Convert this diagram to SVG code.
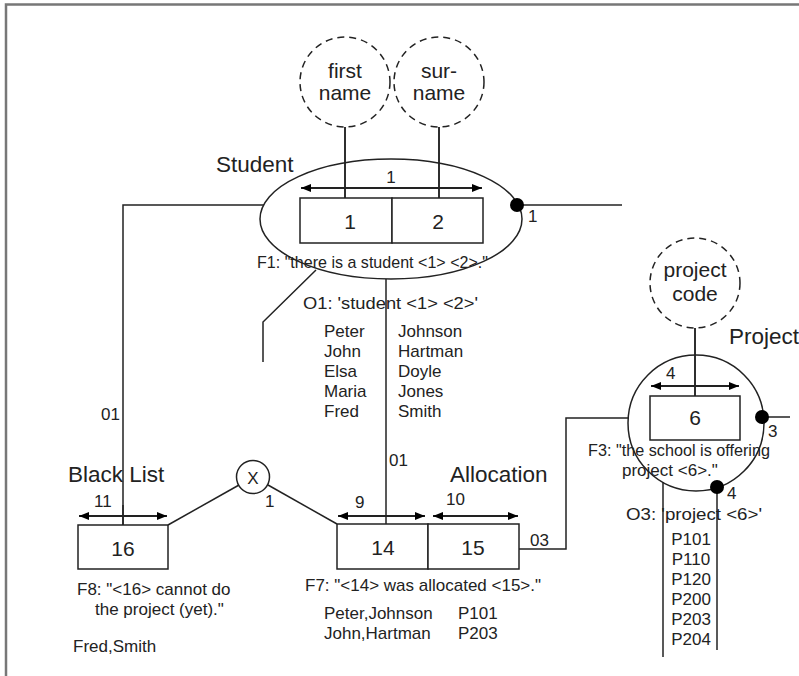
<svg xmlns="http://www.w3.org/2000/svg" width="799" height="676" viewBox="0 0 799 676">
<style>
text{font-family:"Liberation Sans","DejaVu Sans",sans-serif;fill:#222}
.t{font-size:17px}
.lbl{font-size:22.5px}
.big{font-size:21px}
.ln{stroke:#222;stroke-width:1.5;fill:none}
.box{stroke:#222;stroke-width:1.5;fill:#fff}
.dash{stroke:#222;stroke-width:1.5;fill:#fff;stroke-dasharray:7 5}
.arr{stroke:#222;stroke-width:1.8;fill:none;marker-start:url(#ah);marker-end:url(#ah)}
.dot{fill:#000}
.m{text-anchor:middle}
</style>
<defs>
<marker id="ah" viewBox="0 0 10 8" refX="10" refY="4" markerWidth="10" markerHeight="8" markerUnits="userSpaceOnUse" orient="auto-start-reverse">
<path d="M0,0 L10,4 L0,8 Z" fill="#000"/>
</marker>
</defs>
<rect width="799" height="676" fill="#fff"/>
<g id="frame">
<path d="M6,676 V4.5 H799" stroke="#777" stroke-width="2.5" fill="none"/>
</g>

<g id="connectors">
<path class="ln" d="M264,205 H123 V525"/>
<path class="ln" d="M316,270 L263,322 V362"/>
<path class="ln" d="M386,279 V524"/>
<path class="ln" d="M518,205 H622"/>
<path class="ln" d="M345,127 V198"/>
<path class="ln" d="M439,127 V198"/>
<path class="ln" d="M695,328 V396"/>
<path class="ln" d="M519,549 H566 V418 H629"/>
<path class="ln" d="M762,417 H790"/>
<path class="ln" d="M717,487 V650"/>
<path class="ln" d="M663,482 V657"/>
<path class="ln" d="M168,525 L239,485"/>
<path class="ln" d="M268,485 L337,524"/>
<text class="t" x="101" y="420">01</text>
<text class="t" x="389" y="466">01</text>
<text class="t" x="530" y="546">03</text>
<text class="t" x="528" y="222">1</text>
<text class="t" x="768" y="437">3</text>
<text class="t" x="727" y="499">4</text>
<text class="t" x="265" y="507">1</text>
</g>

<g id="first-name">
<circle class="dash" cx="345" cy="82" r="45"/>
<text class="big m" x="345" y="78">first</text>
<text class="big m" x="345" y="100">name</text>
</g>
<g id="surname">
<circle class="dash" cx="439" cy="82" r="45"/>
<text class="big m" x="439" y="78">sur-</text>
<text class="big m" x="439" y="100">name</text>
</g>

<g id="student">
<ellipse cx="391" cy="219" rx="131" ry="60" fill="none" stroke="#222" stroke-width="1.5"/>
<rect class="box" x="300" y="198" width="92" height="45"/>
<rect class="box" x="392" y="198" width="91" height="45"/>
<path class="ln" d="M345,127 V198 M439,127 V198"/>
<text class="big m" x="350" y="229">1</text>
<text class="big m" x="438" y="229">2</text>
<path class="arr" d="M301,188 H482"/>
<text class="t m" x="391" y="183">1</text>
<text class="lbl" x="216" y="172">Student</text>
<circle class="dot" cx="517" cy="205" r="7"/>
<text class="t" x="257" y="268" textLength="231" lengthAdjust="spacingAndGlyphs">F1: "there is a student &lt;1&gt; &lt;2&gt;."</text>
<text class="t" x="303" y="309" textLength="175" lengthAdjust="spacingAndGlyphs">O1: 'student &lt;1&gt; &lt;2&gt;'</text>
<text class="t" x="324" y="337">Peter</text>
<text class="t" x="324" y="357">John</text>
<text class="t" x="324" y="377">Elsa</text>
<text class="t" x="324" y="397">Maria</text>
<text class="t" x="324" y="417">Fred</text>
<text class="t" x="398" y="337">Johnson</text>
<text class="t" x="398" y="357">Hartman</text>
<text class="t" x="398" y="377">Doyle</text>
<text class="t" x="398" y="397">Jones</text>
<text class="t" x="398" y="417">Smith</text>
</g>

<g id="project-code">
<circle class="dash" cx="695" cy="283" r="45"/>
<text class="big m" x="695" y="277">project</text>
<text class="big m" x="695" y="301">code</text>
</g>

<g id="project">
<circle cx="696" cy="423" r="68" fill="none" stroke="#222" stroke-width="1.5"/>
<rect class="box" x="650" y="396" width="90" height="44"/>
<path class="ln" d="M695,328 V396"/>
<text class="big m" x="695" y="425">6</text>
<path class="arr" d="M651,386 H739"/>
<text class="t" x="666" y="379">4</text>
<text class="lbl" x="729" y="344">Project</text>
<circle class="dot" cx="762" cy="417" r="7"/>
<circle class="dot" cx="717" cy="487" r="7"/>
<text class="t" x="588" y="456" textLength="182" lengthAdjust="spacingAndGlyphs">F3: "the school is offering</text>
<text class="t" x="622" y="476">project &lt;6&gt;."</text>
<text class="t" x="626" y="520" textLength="136" lengthAdjust="spacingAndGlyphs">O3: 'project &lt;6&gt;'</text>
<text class="t m" x="691" y="545">P101</text>
<text class="t m" x="691" y="565">P110</text>
<text class="t m" x="691" y="585">P120</text>
<text class="t m" x="691" y="605">P200</text>
<text class="t m" x="691" y="625">P203</text>
<text class="t m" x="691" y="645">P204</text>
</g>

<g id="allocation">
<rect class="box" x="337" y="524" width="91" height="45"/>
<rect class="box" x="428" y="524" width="91" height="45"/>
<text class="big m" x="383" y="555">14</text>
<text class="big m" x="473" y="555">15</text>
<path class="arr" d="M338,516 H425"/>
<path class="arr" d="M433,516 H518"/>
<text class="t" x="355" y="508">9</text>
<text class="t" x="446" y="505">10</text>
<text class="lbl" x="450" y="482">Allocation</text>
<text class="t" x="305" y="591">F7: "&lt;14&gt; was allocated &lt;15&gt;."</text>
<text class="t" x="324" y="619">Peter,Johnson</text>
<text class="t" x="324" y="639">John,Hartman</text>
<text class="t" x="458" y="619">P101</text>
<text class="t" x="458" y="639">P203</text>
</g>

<g id="exclusion">
<circle cx="253" cy="477" r="16.5" fill="#fff" stroke="#222" stroke-width="1.5"/>
<text class="t m" x="253" y="484">X</text>
</g>

<g id="black-list">
<rect class="box" x="78" y="525" width="90" height="44"/>
<path class="ln" d="M123,505 V525"/>
<text class="big m" x="123" y="556">16</text>
<path class="arr" d="M79,516 H167"/>
<text class="t" x="94" y="507">11</text>
<text class="lbl" x="68" y="482">Black List</text>
<text class="t" x="77" y="595">F8: "&lt;16&gt; cannot do</text>
<text class="t" x="95" y="615">the project (yet)."</text>
<text class="t" x="73" y="652">Fred,Smith</text>
</g>
</svg>
